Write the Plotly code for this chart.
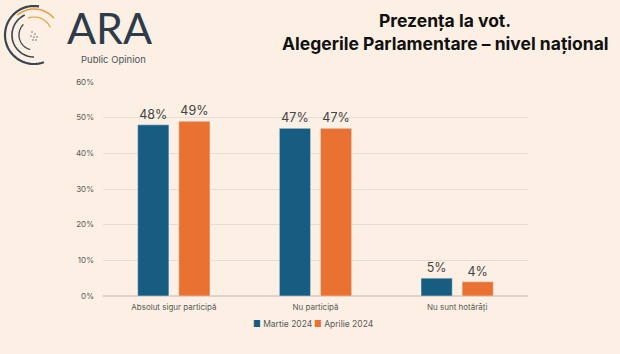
import math
import plotly.graph_objects as go

categories = ["Absolut sigur particip\u0103", "Nu particip\u0103", "Nu sunt hot\u0103r\u00e2\u021bi"]
series_names = ["Martie 2024", "Aprilie 2024"]
martie = [48, 47, 5]
aprilie = [49, 47, 4]
y_ticks = [0, 10, 20, 30, 40, 50, 60]
y_tick_labels = [f"{v}%" for v in y_ticks]

BG = "#FBF0E3"
BLUE = "#175D82"
ORANGE = "#E97132"
FONT = "Inter, Open Sans, sans-serif"

W, H = 620, 354
ML, MR, MT, MB = 103, 92, 82, 58
PW, PH = W - ML - MR, H - MT - MB


def px2paper(x, y):
    return (x - ML) / PW, (H - MB - y) / PH


fig = go.Figure()
for name, vals, col in [(series_names[0], martie, BLUE), (series_names[1], aprilie, ORANGE)]:
    fig.add_trace(go.Bar(
        x=categories, y=vals, name=name, marker_color=col,
        text=[f"{v}%" for v in vals], textposition="outside",
        textfont=dict(size=12.5, color="#444444", family=FONT),
        cliponaxis=False, showlegend=False,
    ))

shapes = []


def arc(cx, cy, r, a0, a1, color, width):
    pts = []
    n = 40
    for i in range(n + 1):
        a = math.radians(a0 + (a1 - a0) * i / n)
        pts.append(px2paper(cx + r * math.cos(a), cy - r * math.sin(a)))
    path = "M " + " L ".join(f"{x:.5f},{y:.5f}" for x, y in pts)
    shapes.append(dict(type="path", path=path, xref="paper", yref="paper",
                       line=dict(color=color, width=width)))


def dot(x, y, r, color):
    x0, y0 = px2paper(x - r, y + r)
    x1, y1 = px2paper(x + r, y - r)
    shapes.append(dict(type="circle", xref="paper", yref="paper", x0=x0, y0=y0, x1=x1, y1=y1,
                       fillcolor=color, line=dict(width=0)))


cx, cy = 34, 35
arc(cx, cy, 29, 80, 290, "#3A4550", 2.2)
arc(cx, cy, 26, 40, 130, "#E3A24A", 1.6)
arc(cx, cy, 22, 115, 270, "#3A4550", 1.6)
arc(cx, cy, 18, 25, 110, "#E3A24A", 1.2)
arc(cx, cy, 15, 135, 255, "#3A4550", 1.3)
for (dx, dy) in [(-2, -3), (1, -1), (-3, 1), (0, 2), (3, 2), (-1, 5), (2, 5)]:
    dot(cx + dx, cy + dy, 0.8, "#6A6F75")

legend_items = [
    (series_names[0], BLUE, 251),
    (series_names[1], ORANGE, 312),
]

annotations = [
    dict(text="<b>Prezen\u021ba la vot.</b>", x=px2paper(445, 21)[0], y=px2paper(0, 21)[1],
         xref="paper", yref="paper", showarrow=False, xanchor="center", yanchor="middle",
         font=dict(size=17.5, color="#111111", family=FONT)),
    dict(text="<b>Alegerile Parlamentare \u2013 nivel na\u021bional</b>", x=px2paper(445, 43)[0],
         y=px2paper(0, 43)[1], xref="paper", yref="paper", showarrow=False,
         xanchor="center", yanchor="middle", font=dict(size=17.5, color="#111111", family=FONT)),
    dict(text="ARA", x=px2paper(65, 27)[0], y=px2paper(0, 27)[1], xref="paper", yref="paper",
         showarrow=False, xanchor="left", yanchor="middle",
         font=dict(size=43, color="#2E3C4A", family="Lato, sans-serif")),
    dict(text="Public Opinion", x=px2paper(113, 59)[0], y=px2paper(0, 59)[1], xref="paper",
         yref="paper", showarrow=False, xanchor="center", yanchor="middle",
         font=dict(size=9.5, color="#4A5560", family=FONT)),
]
for name, col, xpx in legend_items:
    annotations.append(dict(
        text=f"<span style='color:{col}'>\u25A0</span> {name}",
        x=px2paper(xpx, 324)[0], y=px2paper(0, 324)[1], xref="paper", yref="paper",
        showarrow=False, xanchor="left", yanchor="middle",
        font=dict(size=8.5, color="#595959", family=FONT)))

fig.update_layout(
    width=W, height=H, paper_bgcolor=BG, plot_bgcolor=BG,
    margin=dict(l=ML, r=MR, t=MT, b=MB, pad=0),
    barmode="group", bargap=0.42, bargroupgap=0.24,
    font=dict(family=FONT, color="#595959", size=8),
    showlegend=False,
    xaxis=dict(showgrid=False, showline=False, ticks="", tickfont=dict(size=8, color="#595959"),
               automargin=False, ticklabelstandoff=5),
    yaxis=dict(range=[0, 60], tickvals=y_ticks, ticktext=y_tick_labels, showgrid=True,
               gridcolor="#E6DCD0", gridwidth=1, zeroline=True, zerolinecolor="#DDD3C6",
               showline=False, ticks="", tickfont=dict(size=8, color="#595959"), automargin=False,
               ticklabelstandoff=8),
    shapes=shapes, annotations=annotations,
)

fig.write_html("out.html")
